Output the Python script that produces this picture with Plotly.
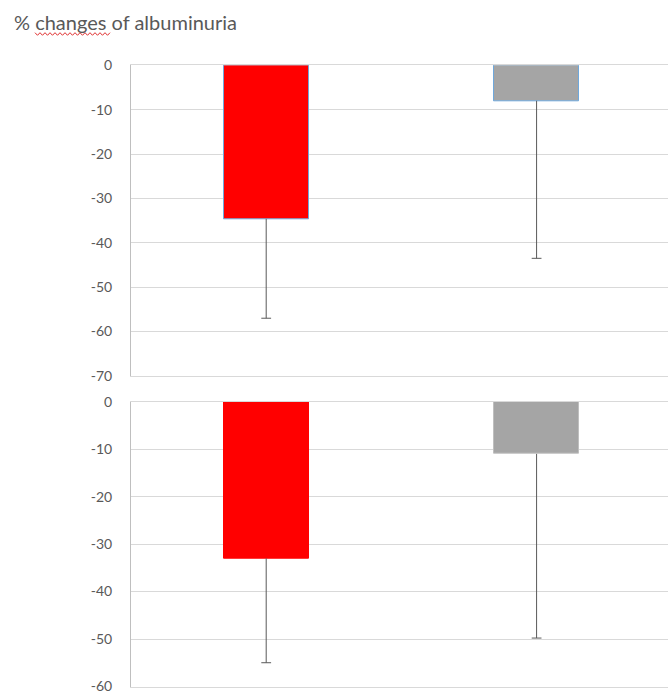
import plotly.graph_objects as go

# Group names (not shown on the axis)
groups = ["Group 1", "Group 2"]

# Upper panel: mean % change and lower end of the error bar
upper_means = [-34.6, -8.0]
upper_lows = [-57.0, -43.5]

# Lower panel: mean % change and lower end of the error bar
lower_means = [-33.0, -11.0]
lower_lows = [-55.0, -49.8]

upper_ticks = [0, -10, -20, -30, -40, -50, -60, -70]
upper_tick_labels = ["0", "-10", "-20", "-30", "-40", "-50", "-60", "-70"]
lower_ticks = [0, -10, -20, -30, -40, -50, -60]
lower_tick_labels = ["0", "-10", "-20", "-30", "-40", "-50", "-60"]

bar_colors = ["#FF0000", "#A5A5A5"]
TEXT = "#595959"
GRID = "#D9D9D9"
AXIS = "#BFBFBF"
FONT = "Lato, 'Open Sans', sans-serif"

W, H = 668, 691


def py(px):
    """Convert a pixel row (from the top) to paper y."""
    return (H - px) / H


fig = go.Figure()

xpos = list(range(len(groups)))


def whiskers(means, lows, xa, ya):
    """Downward-only error bars: a stem from the bar end plus a cap at the low end."""
    xs, ys = [], []
    for x, m, lo in zip(xpos, means, lows):
        xs += [x, x, None]
        ys += [m, lo, None]
    stem = go.Scatter(x=xs, y=ys, mode="lines", line=dict(color=TEXT, width=1),
                      xaxis=xa, yaxis=ya, showlegend=False, hoverinfo="skip")
    cap = go.Scatter(x=xpos, y=lows, mode="markers",
                     marker=dict(symbol="line-ew", size=7,
                                 line=dict(color=TEXT, width=1)),
                     xaxis=xa, yaxis=ya, showlegend=False, hoverinfo="skip")
    return [stem, cap]


fig.add_trace(go.Bar(
    x=xpos, y=upper_means, width=0.314,
    marker=dict(color=bar_colors, line=dict(color="#6FA8DC", width=1)),
    xaxis="x", yaxis="y", showlegend=False, hoverinfo="skip",
))
for t in whiskers(upper_means, upper_lows, "x", "y"):
    fig.add_trace(t)

fig.add_trace(go.Bar(
    x=xpos, y=lower_means, width=0.314,
    marker=dict(color=bar_colors, line=dict(color=["#FF0000", "#BFBFBF"], width=1)),
    xaxis="x2", yaxis="y2", showlegend=False, hoverinfo="skip",
))
for t in whiskers(lower_means, lower_lows, "x2", "y2"):
    fig.add_trace(t)

x_dom = [131 / W, 1.0]
x_range = [-0.5, 1.486]

common_x = dict(range=x_range, domain=x_dom, showticklabels=False, ticks="",
                showgrid=False, zeroline=False, showline=True, mirror=True,
                linecolor=GRID, linewidth=1, fixedrange=True)

common_y = dict(showgrid=True, gridcolor=GRID, gridwidth=1, zeroline=False,
                showline=True, linecolor=AXIS, linewidth=1,
                ticks="", ticklabelstandoff=15, ticklabeloverflow="allow",
                tickfont=dict(size=14, color=TEXT, family=FONT),
                automargin=False, fixedrange=True)

fig.update_layout(
    width=W, height=H,
    margin=dict(l=0, r=0, t=0, b=0),
    paper_bgcolor="white", plot_bgcolor="white",
    font=dict(family=FONT, color=TEXT),
    bargap=0,
    xaxis=dict(anchor="y", **common_x),
    xaxis2=dict(anchor="y2", **common_x),
    yaxis=dict(anchor="x", domain=[py(376), py(65.3)], range=[-70.02, 0],
               tickvals=upper_ticks, ticktext=upper_tick_labels, **common_y),
    yaxis2=dict(anchor="x2", domain=[py(686.7), py(401.7)], range=[-60.05, 0],
                tickvals=lower_ticks, ticktext=lower_tick_labels, **common_y),
)

fig.add_annotation(
    text="% changes of albuminuria", xref="paper", yref="paper",
    x=12 / W, y=py(22), xanchor="left", yanchor="middle", showarrow=False,
    font=dict(size=20, color=TEXT, family=FONT),
)

# Red wavy spell-check underline beneath "changes"
x0, x1, y0, amp, step = 35, 110, 34, 1.3, 2.5
pts = []
k = 0
x = x0
while x <= x1:
    yy = y0 + (amp if k % 2 else -amp)
    pts.append(f"{x / W:.5f},{py(yy):.5f}")
    x += step
    k += 1
fig.add_shape(type="path", xref="paper", yref="paper",
              path="M " + " L ".join(pts),
              line=dict(color="#E03030", width=1))

fig.write_html("out.html")
